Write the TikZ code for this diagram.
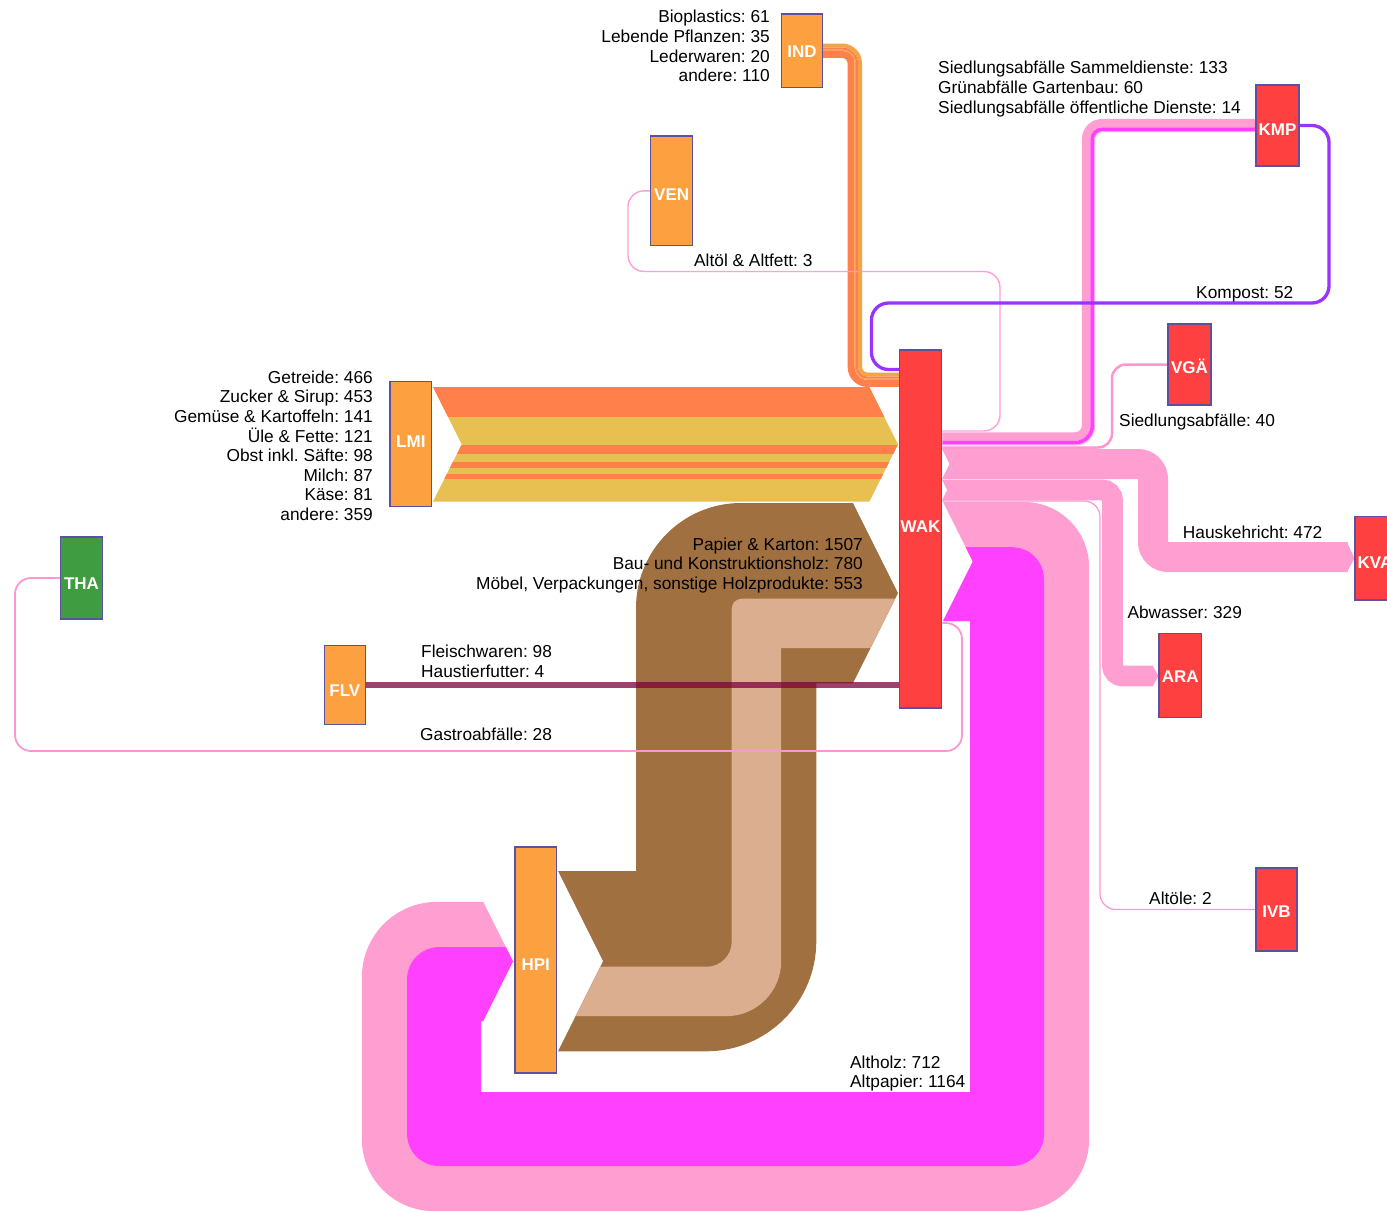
\documentclass[tikz,border=0pt]{standalone}
\usepackage{fontspec}
\setmainfont{Liberation Sans}
\usetikzlibrary{backgrounds}
\frenchspacing

% colours
\definecolor{nodeor}{RGB}{252,160,64}
\definecolor{nodered}{RGB}{255,64,64}
\definecolor{nodegreen}{RGB}{64,156,64}
\definecolor{nodeedge}{RGB}{92,80,160}
\definecolor{foodor}{RGB}{255,128,74}
\definecolor{foodye}{RGB}{232,192,82}
\definecolor{indlight}{RGB}{244,164,72}
\definecolor{woodbr}{RGB}{160,112,64}
\definecolor{woodtan}{RGB}{218,174,142}
\definecolor{wastepink}{RGB}{255,158,208}
\definecolor{wastemag}{RGB}{255,64,255}
\definecolor{linepink}{RGB}{255,150,208}
\definecolor{kompostviolet}{RGB}{153,51,255}
\definecolor{meat}{RGB}{128,0,64}

\newcommand\lblfont{\fontsize{17.3pt}{19.6pt}\selectfont}

% quarter-turn corners at vertex (#1,#2) with radius #3 (y grows downwards)
\newcommand\crES[3]{-- ({#1-#3},#2) arc[start angle=-90,end angle=0,radius=#3]}
\newcommand\crSE[3]{-- (#1,{#2-#3}) arc[start angle=180,end angle=90,radius=#3]}
\newcommand\crEN[3]{-- ({#1-#3},#2) arc[start angle=90,end angle=0,radius=#3]}
\newcommand\crNE[3]{-- (#1,{#2+#3}) arc[start angle=180,end angle=270,radius=#3]}
\newcommand\crWS[3]{-- ({#1+#3},#2) arc[start angle=270,end angle=180,radius=#3]}
\newcommand\crSW[3]{-- (#1,{#2-#3}) arc[start angle=0,end angle=90,radius=#3]}
\newcommand\crWN[3]{-- ({#1+#3},#2) arc[start angle=90,end angle=180,radius=#3]}

\tikzset{
  nbox/.style={draw=nodeedge, line width=1.1pt, text=white,
    font=\fontsize{17pt}{19pt}\selectfont\bfseries, inner sep=0pt, text depth=0pt},
  orbox/.style={nbox, fill=nodeor},
  redbox/.style={nbox, fill=nodered},
  lbl/.style={font=\lblfont, inner sep=0pt, text=black},
  thinflow/.style={draw=linepink, rounded corners=16pt},
}

\begin{document}
\begin{tikzpicture}[x=1pt, y=1pt, yscale=-1]
\useasboundingbox (0,0) rectangle (1387,1212);

% ---------- process boxes ----------
\node[orbox, minimum width=40.6pt, minimum height=73.3pt, text height=13.6pt] (IND) at (802,50.65) {IND};
\node[orbox, minimum width=42pt, minimum height=109.7pt, text height=19.5pt] (VEN) at (671.7,190.85) {VEN};
\node[redbox, minimum width=43pt, minimum height=81pt, text height=19.2pt] (KMP) at (1277.5,125.5) {KMP};
\node[redbox, minimum width=43pt, minimum height=81pt, text height=17.2pt] (VGA) at (1189.5,364.5) {VGÄ};
\node[redbox, minimum width=42.4pt, minimum height=358pt, text height=7.2pt] (WAK) at (920.5,529) {WAK};
\node[orbox, minimum width=41.7pt, minimum height=125pt, text height=7.2pt] (LMI) at (410.85,444.2) {LMI};
\node[nbox, fill=nodegreen, minimum width=41.5pt, minimum height=82pt, text height=23pt] (THA) at (81.5,578) {THA};
\node[orbox, minimum width=41.5pt, minimum height=78.6pt, text height=22.2pt] (FLV) at (344.9,685) {FLV};
\node[redbox, minimum width=40pt, minimum height=83.3pt, text height=20.5pt] (KVA) at (1375,558.35) {KVA};
\node[redbox, minimum width=42.7pt, minimum height=84pt, text height=13.6pt] (ARA) at (1180.3,675.3) {ARA};
\node[redbox, minimum width=41pt, minimum height=83pt, text height=15.2pt] (IVB) at (1276.5,909.5) {IVB};
\node[orbox, minimum width=41.7pt, minimum height=226pt, text height=21pt] (HPI) at (535.8,960) {HPI};

% ---------- flows, behind the boxes ----------
\begin{pgfonlayer}{background}
\fill[white] (0,0) rectangle (1387,1212);

% food industry band LMI -> WAK
\begin{scope}
  \clip (433,387) -- (869.3,387) -- (898,444.35) -- (869.3,501.7) -- (433,501.7) -- (461.7,444.35) -- cycle;
  \fill[foodye] (430,386) rectangle (900,503);
  \fill[foodor] (430,386) rectangle (900,416.6);
  \fill[foodor] (430,445.4) rectangle (900,454.3);
  \fill[foodor] (430,462.0) rectangle (900,468.2);
  \fill[foodor] (430,473.7) rectangle (900,478.9);
\end{scope}

% wood and paper HPI -> WAK
\fill[woodbr] (852.9,503) \crWS{636}{503}{105} -- (636,871) -- (558,871) -- (603.1,961.15) -- (558,1051.3)
  \crEN{816.3}{1051.3}{110} -- (816.3,683.3) -- (852.9,683.3) -- (898,593.15) -- cycle;
\fill[woodtan] (895.2,598.7) \crWS{731.7}{598.7}{10} \crSW{731.7}{966.7}{25} -- (600.3,966.7) -- (575.6,1016.2)
  \crEN{781.2}{1016.2}{55} -- (781.2,648.2) -- (870.5,648.2) -- cycle;

% Gastroabfaelle THA -> WAK
\draw[thinflow, line width=1.8pt] (THA.west) -- (15,578) -- (15,751) -- (962,751) -- (962,623) -- (WAK.east |- 0,623);

% Altholz / Altpapier WAK -> HPI
\fill[wastepink] (943,502) \crES{1089.1}{502}{65} \crSW{1089.1}{1211.1}{72} \crWN{361.9}{1211.1}{72}
  \crNE{361.9}{901.9}{75} -- (483.2,901.9) -- (513,961.45) -- (483.2,1021) -- (481,1021) -- (481,1092)
  -- (970,1092) -- (970,621.1) -- (943,621.1) -- (972.8,561.55) -- cycle;
\fill[wastemag] (965.6,547.2) \crES{1044}{547.2}{32} \crSW{1044}{1166}{32} \crWN{407.1}{1166}{32}
  \crNE{407.1}{947.1}{32} -- (505.8,947.1) -- (513,961.45) -- (483.2,1021) -- (481,1021) -- (481,1092)
  -- (970,1092) -- (970,621.1) -- (943,621.1) -- (972.8,561.55) -- cycle;

% Altoele WAK -> IVB
\draw[thinflow, line width=1.2pt] (WAK.east |- 0,501) -- (1100,501) -- (1100,909.5) -- (IVB.west);

% Hauskehricht WAK -> KVA
\draw[wastepink, line width=30pt] (950,464) \crES{1153}{464}{15} \crSE{1153}{557}{15} -- (1347.6,557);
\fill[wastepink] (942,449) -- (951,449) -- (951,479) -- (942,479) -- (949.5,464) -- cycle;
\fill[wastepink] (1347,542) -- (KVA.west) -- (1347,572) -- cycle;

% Abwasser WAK -> ARA
\draw[wastepink, line width=20.9pt] (949,490) \crES{1112.5}{490}{10.45} \crSE{1112.5}{676}{10.45} -- (1153,676);
\fill[wastepink] (942,479.55) -- (950,479.55) -- (950,500.45) -- (942,500.45) -- (947.2,490) -- cycle;
\fill[wastepink] (1152.5,665.55) -- (1158.3,676) -- (1152.5,686.45) -- cycle;

% KMP -> WAK
\draw[wastepink, line width=8.45pt] (KMP.west |- 0,123.2) \crWS{1086.2}{123.2}{15.8} \crSW{1086.2}{436.6}{11.05} -- (WAK.east |- 0,436.6);
\draw[wastemag, line width=3.81pt] (KMP.west |- 0,129.36) \crWS{1092.36}{129.36}{9.64} \crSW{1092.36}{442.7}{17.2} -- (WAK.east |- 0,442.7);
\draw[wastepink, line width=0.89pt] (KMP.west |- 0,131.7) \crWS{1094.7}{131.7}{7.3} \crSW{1094.7}{445.05}{19.55} -- (WAK.east |- 0,445.05);

% Siedlungsabfaelle VGAE -> WAK
\draw[thinflow, line width=2.5pt, rounded corners=14pt] (VGA.west) -- (1112,364.5) -- (1112,447.5) -- (WAK.east |- 0,447.5);

% IND -> WAK
\draw[foodor, line width=6.99pt] (IND.east |- 0,54.36) \crES{851.2}{54.36}{9.15} \crSE{851.2}{383.5}{16.5} -- (WAK.west |- 0,383.5);
\draw[indlight, line width=1.27pt] (IND.east |- 0,50.23) \crES{855.3}{50.23}{13.3} \crSE{855.3}{379.34}{12.4} -- (WAK.west |- 0,379.34);
\draw[foodor, line width=2.22pt] (IND.east |- 0,48.49) \crES{857.0}{48.49}{15.0} \crSE{857.0}{377.6}{10.6} -- (WAK.west |- 0,377.6);
\draw[indlight, line width=3.87pt] (IND.east |- 0,45.44) \crES{860.06}{45.44}{18.06} \crSE{860.06}{374.54}{7.6} -- (WAK.west |- 0,374.54);

% Altoel & Altfett VEN -> WAK
\draw[thinflow, line width=1.4pt, opacity=0.9] (VEN.west) -- (628,190.85) -- (628,271.5) -- (1000,271.5) -- (1000,431) -- (WAK.east |- 0,431);

% Kompost KMP -> WAK
\draw[kompostviolet, line width=3.3pt, rounded corners=17pt] (KMP.east) -- (1329,125.5) -- (1329,303) -- (871.5,303) -- (871.5,369.5) -- (WAK.west |- 0,369.5);

% Fleischwaren FLV -> WAK
\draw[meat, opacity=0.75, line width=6.5pt] (FLV.east) -- (WAK.west |- FLV.east);
\end{pgfonlayer}

% ---------- labels ----------
\foreach \t [count=\i from 0] in {Bioplastics: 61, Lebende Pflanzen: 35, Lederwaren: 20, andere: 110}
  \node[lbl, anchor=base east] (labind\i) at (770,{22.7+19.7*\i}) {\t};
\foreach \t [count=\i from 0] in {Siedlungsabfälle Sammeldienste: 133, Grünabfälle Gartenbau: 60, Siedlungsabfälle öffentliche Dienste: 14}
  \node[lbl, anchor=base west] (labkmp\i) at (938,{74+19.6*\i}) {\t};
\node[lbl, anchor=base west] (labven) at (694,266.7) {Altöl \& Altfett: 3};
\node[lbl, anchor=base west] (labkomp) at (1196,298.3) {Kompost: 52};
\node[lbl, anchor=base west] (labvga) at (1119,426) {Siedlungsabfälle: 40};
\foreach \t [count=\i from 0] in {Getreide: 466, Zucker \& Sirup: 453, Gemüse \& Kartoffeln: 141, Üle \& Fette: 121, Obst inkl. Säfte: 98, Milch: 87, Käse: 81, andere: 359}
  \node[lbl, anchor=base east] (lablmi\i) at (373,{383.2+19.6*\i}) {\t};
\foreach \t [count=\i from 0] in {Papier \& Karton: 1507, Bau- und Konstruktionsholz: 780, {Möbel, Verpackungen, sonstige Holzprodukte: 553}}
  \node[lbl, anchor=base east] (labhpi\i) at (863,{550+19.6*\i}) {\t};
\node[lbl, anchor=base west] (labkva) at (1182.7,538.3) {Hauskehricht: 472};
\node[lbl, anchor=base west] (labara) at (1127.3,618.3) {Abwasser: 329};
\node[lbl, anchor=base west] (labflv1) at (421,657.5) {Fleischwaren: 98};
\node[lbl, anchor=base west] (labflv2) at (421,677) {Haustierfutter: 4};
\node[lbl, anchor=base west] (labtha) at (420,740.5) {Gastroabfälle: 28};
\node[lbl, anchor=base west] (labivb) at (1149,904) {Altöle: 2};
\node[lbl, anchor=base west] (labalt1) at (850,1068.3) {Altholz: 712};
\node[lbl, anchor=base west] (labalt2) at (850,1087.9) {Altpapier: 1164};
\end{tikzpicture}
\end{document}
